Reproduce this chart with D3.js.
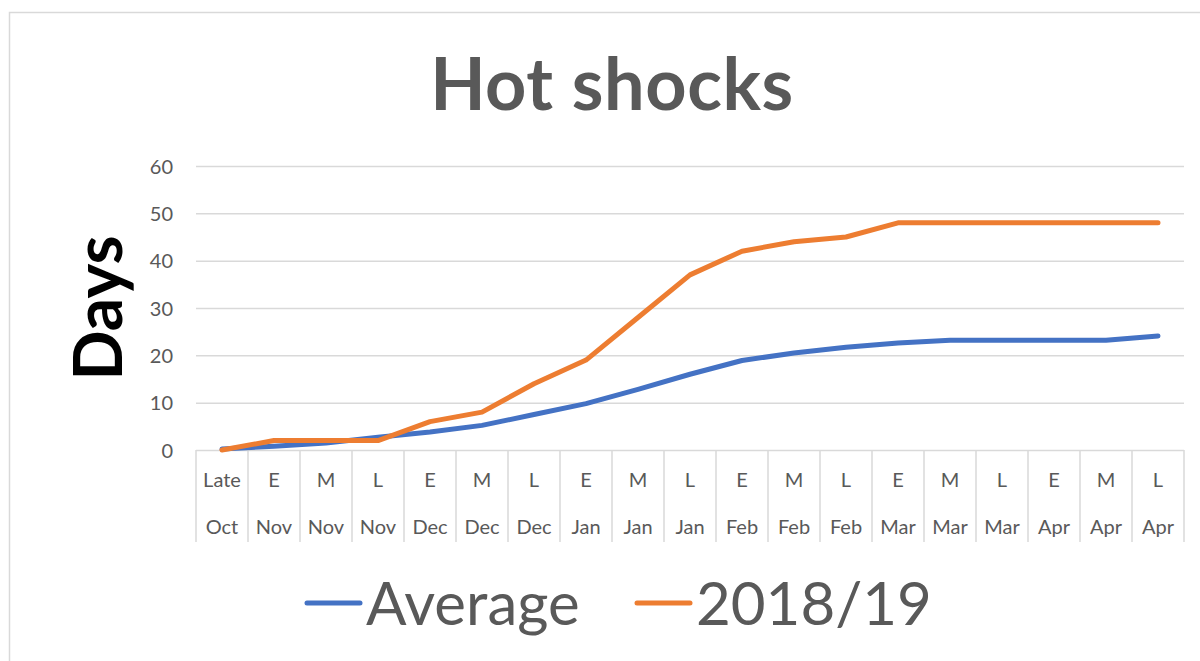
<!DOCTYPE html>
<html>
<head>
<meta charset="utf-8">
<script src="https://cdn.jsdelivr.net/npm/d3@7"></script>
<style>
  body { margin: 0; background: #fff; }
  svg { display: block; font-family: Lato, "Open Sans", sans-serif; }
</style>
</head>
<body>
<div id="chart"></div>
<script>
const periods = ['Late', 'E', 'M', 'L', 'E', 'M', 'L', 'E', 'M', 'L', 'E', 'M', 'L', 'E', 'M', 'L', 'E', 'M', 'L'];
const months = ['Oct', 'Nov', 'Nov', 'Nov', 'Dec', 'Dec', 'Dec', 'Jan', 'Jan', 'Jan', 'Feb', 'Feb', 'Feb', 'Mar', 'Mar', 'Mar', 'Apr', 'Apr', 'Apr'];
const average = [0.2, 0.8, 1.5, 2.7, 3.8, 5.2, 7.5, 9.8, 12.8, 16.0, 18.9, 20.5, 21.7, 22.6, 23.2, 23.2, 23.2, 23.2, 24.1];
const season = [0, 2, 2, 2, 6, 8, 14, 19, 28, 37, 42, 44, 45, 48, 48, 48, 48, 48, 48];
const yTicks = [0, 10, 20, 30, 40, 50, 60];

const series = [
    { name: 'Average', values: average, color: '#4472C4' },
    { name: '2018/19', values: season, color: '#ED7D31' }
];

const width = 1200, height = 661;
const margin = { left: 196, right: 16, top: 166, bottom: 211 };
const grey = '#595959';
const gridColor = '#D9D9D9';

const svg = d3.select('#chart').append('svg')
    .attr('width', width)
    .attr('height', height);

// chart frame
svg.append('rect')
    .attr('x', 9.5).attr('y', 12.5)
    .attr('width', width + 20).attr('height', height + 20)
    .attr('fill', 'none')
    .attr('stroke', gridColor)
    .attr('stroke-width', 1.5);

const x = d3.scaleBand()
    .domain(d3.range(periods.length))
    .range([margin.left, width - margin.right])
    .padding(0);

const y = d3.scaleLinear()
    .domain([0, 60])
    .range([height - margin.bottom, margin.top]);

// gridlines + y labels
const yAxis = svg.append('g')
    .attr('transform', `translate(${margin.left},0)`)
    .call(d3.axisLeft(y)
        .tickValues(yTicks)
        .tickSize(-(width - margin.right - margin.left))
        .tickPadding(23));
yAxis.select('.domain').remove();
yAxis.attr('font-family', null).attr('font-size', null);
yAxis.selectAll('.tick line').attr('stroke', gridColor).attr('stroke-width', 1.5);
yAxis.selectAll('.tick text')
    .attr('fill', grey)
    .attr('dy', '0.35em')
    .style('font-size', '20px');

// category axis with multi-level labels
const x0 = y(0);
const boundaries = d3.range(periods.length + 1).map(i => i < periods.length ? x(i) : x(i - 1) + x.bandwidth());
svg.append('g').selectAll('line')
    .data(boundaries)
    .enter().append('line')
    .attr('x1', d => d).attr('x2', d => d)
    .attr('y1', x0).attr('y2', x0 + 92)
    .attr('stroke', gridColor)
    .attr('stroke-width', 1.5);

const cat = svg.append('g')
    .attr('fill', grey)
    .attr('text-anchor', 'middle')
    .style('font-size', '20px');
cat.selectAll('text.period')
    .data(periods)
    .enter().append('text')
    .attr('class', 'period')
    .attr('x', (d, i) => x(i) + x.bandwidth() / 2)
    .attr('y', x0 + 37)
    .text(d => d);
cat.selectAll('text.month')
    .data(months)
    .enter().append('text')
    .attr('class', 'month')
    .attr('x', (d, i) => x(i) + x.bandwidth() / 2)
    .attr('y', x0 + 84)
    .text(d => d);

// lines
const line = d3.line()
    .x((d, i) => x(i) + x.bandwidth() / 2)
    .y(d => y(d));

svg.append('g').selectAll('path')
    .data(series)
    .enter().append('path')
    .attr('d', d => line(d.values))
    .attr('fill', 'none')
    .attr('stroke', d => d.color)
    .attr('stroke-width', 5)
    .attr('stroke-linejoin', 'round')
    .attr('stroke-linecap', 'round');

// title
svg.append('text')
    .attr('x', 612)
    .attr('y', 110)
    .attr('text-anchor', 'middle')
    .attr('fill', grey)
    .style('font-size', '72px')
    .style('font-weight', 'bold')
    .style('letter-spacing', '0.6px')
    .text('Hot shocks');

// y axis title
svg.append('text')
    .attr('transform', 'translate(122,308) rotate(-90)')
    .attr('text-anchor', 'middle')
    .attr('fill', '#000')
    .style('font-size', '66px')
    .style('font-weight', 'bold')
    .text('Days');

// legend
const legendX = [305, 635];
const legend = svg.append('g').selectAll('g')
    .data(series)
    .enter().append('g')
    .attr('transform', (d, i) => `translate(${legendX[i]},603)`);
legend.append('line')
    .attr('x1', 2).attr('x2', 55)
    .attr('stroke', d => d.color)
    .attr('stroke-width', 5)
    .attr('stroke-linecap', 'round');
legend.append('text')
    .attr('x', 61)
    .attr('y', 22)
    .attr('fill', grey)
    .style('font-size', '60px')
    .text(d => d.name);
</script>
</body>
</html>
